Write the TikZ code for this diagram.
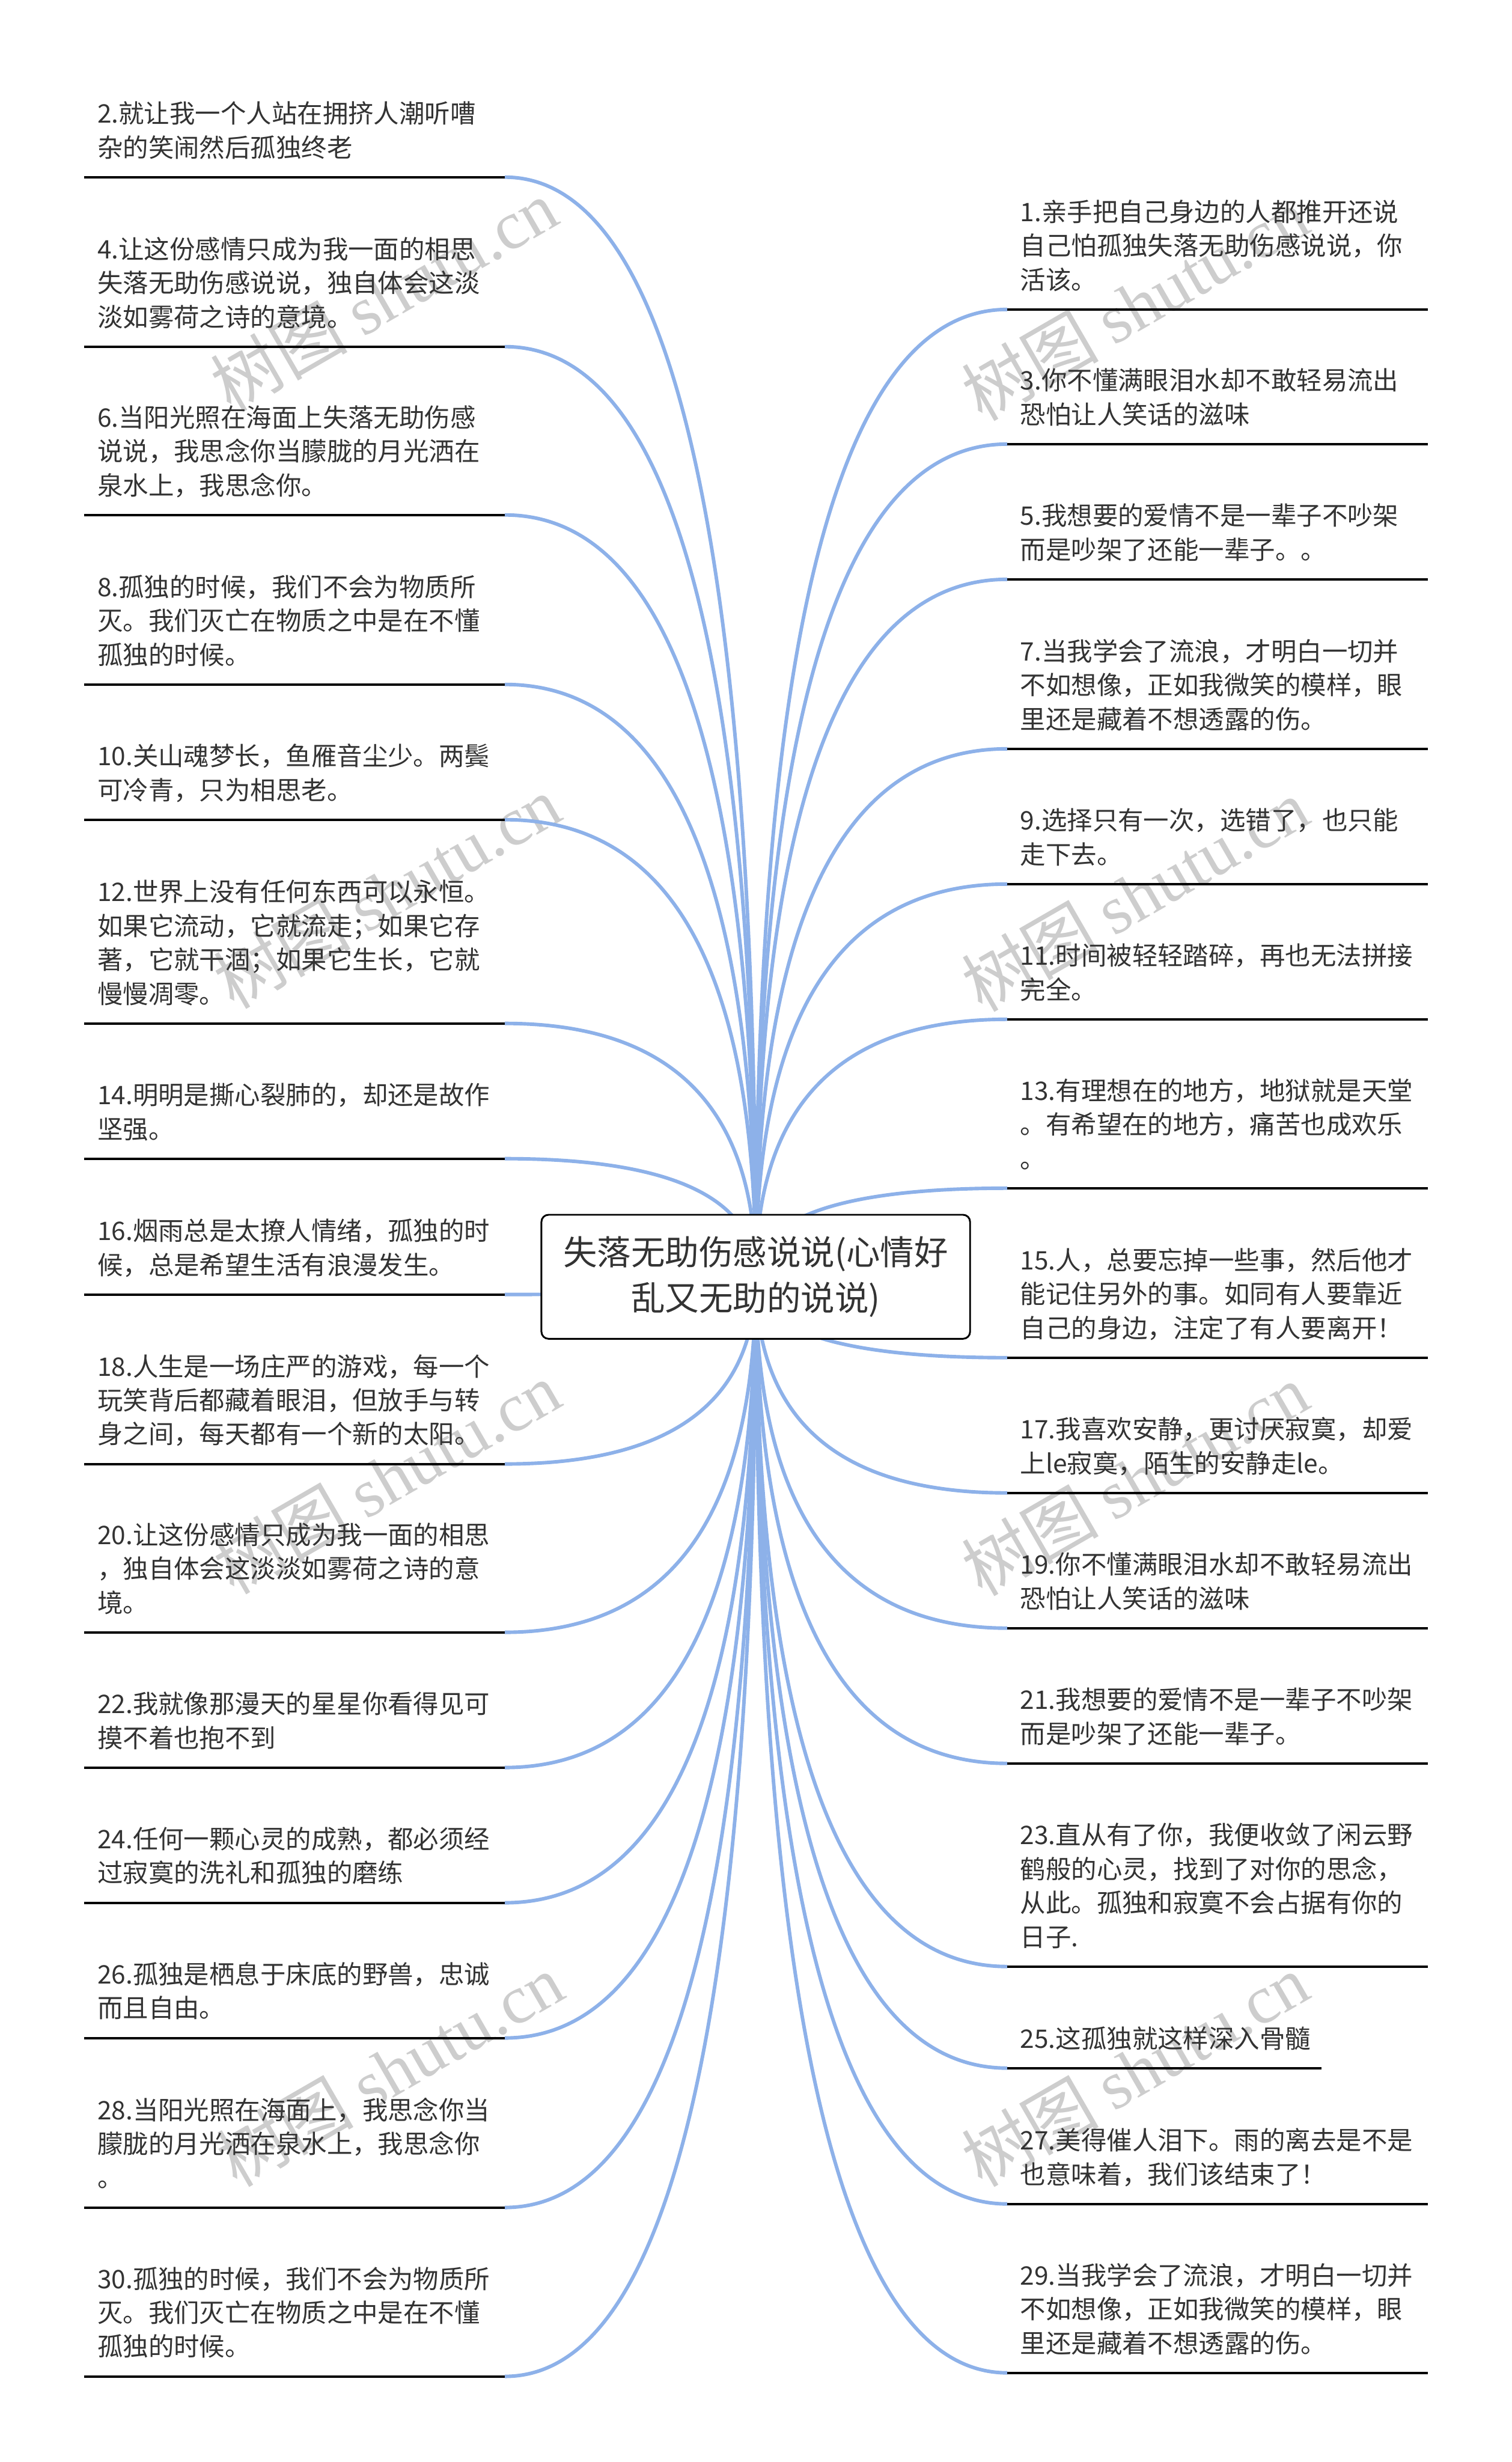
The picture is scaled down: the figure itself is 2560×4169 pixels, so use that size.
\documentclass[tikz,border=0pt]{standalone}
\usepackage{fontspec}
\setmainfont{Noto Sans CJK SC}
\newfontfamily\markfont{Liberation Serif}
\usetikzlibrary{positioning, calc, backgrounds}
\definecolor{linkblue}{RGB}{141,177,233}
\definecolor{inkgray}{RGB}{51,51,51}
\definecolor{markgray}{RGB}{205,205,205}

\begin{document}
\begin{tikzpicture}[
        x=1pt, y=-1pt,
        font=\fontsize{43.2}{57.4}\selectfont,
        base/.style={inner sep=0pt, outer sep=0pt, text=inkgray},
        topic/.style={base, draw=black, line width=3pt, fill=white, rounded corners=12pt, align=center, minimum width=726pt, minimum height=210pt, font=\fontsize{57.5}{77}\selectfont},
        leaf/.style={base, anchor=south west, align=left, text width=668pt, inner xsep=22pt, inner ysep=17pt, execute at end node=\strut},
        rule/.style={line width=4pt, draw=black},
        link/.style={line width=6pt, draw=linkblue},
        watermark/.style={text=markgray, rotate=30, font=\fontsize{116}{116}\selectfont}
    ]

    \useasboundingbox (0,0) rectangle (2560,4169);

    % Nodes
    \node[topic] (root) at (1280,2162) {失落无助伤感说说(心情好\\乱又无助的说说)};

    \node[leaf] (item2) at (143,300) {2.就让我一个人站在拥挤人潮听嘈\\杂的笑闹然后孤独终老};
    \node[leaf] (item4) at (143,587) {4.让这份感情只成为我一面的相思\\失落无助伤感说说，独自体会这淡\\淡如雾荷之诗的意境。};
    \node[leaf] (item6) at (143,872) {6.当阳光照在海面上失落无助伤感\\说说，我思念你当朦胧的月光洒在\\泉水上，我思念你。};
    \node[leaf] (item8) at (143,1159) {8.孤独的时候，我们不会为物质所\\灭。我们灭亡在物质之中是在不懂\\孤独的时候。};
    \node[leaf] (item10) at (143,1388) {10.关山魂梦长，鱼雁音尘少。两鬓\\可冷青，只为相思老。};
    \node[leaf] (item12) at (143,1733) {12.世界上没有任何东西可以永恒。\\如果它流动，它就流走；如果它存\\著，它就干涸；如果它生长，它就\\慢慢凋零。};
    \node[leaf] (item14) at (143,1962) {14.明明是撕心裂肺的，却还是故作\\坚强。};
    \node[leaf] (item16) at (143,2192) {16.烟雨总是太撩人情绪，孤独的时\\候，总是希望生活有浪漫发生。};
    \node[leaf] (item18) at (143,2479) {18.人生是一场庄严的游戏，每一个\\玩笑背后都藏着眼泪，但放手与转\\身之间，每天都有一个新的太阳。};
    \node[leaf] (item20) at (143,2764) {20.让这份感情只成为我一面的相思\\，独自体会这淡淡如雾荷之诗的意\\境。};
    \node[leaf] (item22) at (143,2993) {22.我就像那漫天的星星你看得见可\\摸不着也抱不到};
    \node[leaf] (item24) at (143,3222) {24.任何一颗心灵的成熟，都必须经\\过寂寞的洗礼和孤独的磨练};
    \node[leaf] (item26) at (143,3451) {26.孤独是栖息于床底的野兽，忠诚\\而且自由。};
    \node[leaf] (item28) at (143,3738) {28.当阳光照在海面上，我思念你当\\朦胧的月光洒在泉水上，我思念你\\。};
    \node[leaf] (item30) at (143,4024) {30.孤独的时候，我们不会为物质所\\灭。我们灭亡在物质之中是在不懂\\孤独的时候。};

    \node[leaf] (item1) at (1706,524) {1.亲手把自己身边的人都推开还说\\自己怕孤独失落无助伤感说说，你\\活该。};
    \node[leaf] (item3) at (1706,752) {3.你不懂满眼泪水却不敢轻易流出\\恐怕让人笑话的滋味};
    \node[leaf] (item5) at (1706,981) {5.我想要的爱情不是一辈子不吵架\\而是吵架了还能一辈子。。};
    \node[leaf] (item7) at (1706,1268) {7.当我学会了流浪，才明白一切并\\不如想像，正如我微笑的模样，眼\\里还是藏着不想透露的伤。};
    \node[leaf] (item9) at (1706,1497) {9.选择只有一次，选错了，也只能\\走下去。};
    \node[leaf] (item11) at (1706,1726) {11.时间被轻轻踏碎，再也无法拼接\\完全。};
    \node[leaf] (item13) at (1706,2012) {13.有理想在的地方，地狱就是天堂\\。有希望在的地方，痛苦也成欢乐\\。};
    \node[leaf] (item15) at (1706,2299) {15.人，总要忘掉一些事，然后他才\\能记住另外的事。如同有人要靠近\\自己的身边，注定了有人要离开！};
    \node[leaf] (item17) at (1706,2528) {17.我喜欢安静，更讨厌寂寞，却爱\\上le寂寞，陌生的安静走le。};
    \node[leaf] (item19) at (1706,2757) {19.你不懂满眼泪水却不敢轻易流出\\恐怕让人笑话的滋味};
    \node[leaf] (item21) at (1706,2986) {21.我想要的爱情不是一辈子不吵架\\而是吵架了还能一辈子。};
    \node[leaf] (item23) at (1706,3330) {23.直从有了你，我便收敛了闲云野\\鹤般的心灵，找到了对你的思念，\\从此。孤独和寂寞不会占据有你的\\日子.};
    \node[leaf, text width=488pt] (item25) at (1706,3502) {25.这孤独就这样深入骨髓};
    \node[leaf] (item27) at (1706,3732) {27.美得催人泪下。雨的离去是不是\\也意味着，我们该结束了！};
    \node[leaf] (item29) at (1706,4018) {29.当我学会了流浪，才明白一切并\\不如想像，正如我微笑的模样，眼\\里还是藏着不想透露的伤。};

    % Underlines
    \foreach \n in {1,...,30}
        \draw[rule] (item\n.south west) -- (item\n.south east);

    \begin{scope}[on background layer]
        \fill[white] (0,0) rectangle (2560,4169);

        % Watermarks
        \node[watermark] (markA) at (650,500) {树图 {\markfont shutu.cn}};
        \node[watermark] (markB) at (1922,515) {树图 {\markfont shutu.cn}};
        \node[watermark] (markC) at (655,1510) {树图 {\markfont shutu.cn}};
        \node[watermark] (markD) at (1922,1515) {树图 {\markfont shutu.cn}};
        \node[watermark] (markE) at (655,2502) {树图 {\markfont shutu.cn}};
        \node[watermark] (markF) at (1922,2505) {树图 {\markfont shutu.cn}};
        \node[watermark] (markG) at (660,3505) {树图 {\markfont shutu.cn}};
        \node[watermark] (markH) at (1922,3505) {树图 {\markfont shutu.cn}};

        % Links
        \foreach \n in {2,4,...,30}
            \draw[link] (root.center) .. controls ($(root.center)!2/3!(root.center |- item\n.south east)$)
                and ($(item\n.south east)!2/3!(root.center |- item\n.south east)$) .. (item\n.south east);
        \foreach \n in {1,3,...,29}
            \draw[link] (root.center) .. controls ($(root.center)!2/3!(root.center |- item\n.south west)$)
                and ($(item\n.south west)!2/3!(root.center |- item\n.south west)$) .. (item\n.south west);
    \end{scope}

\end{tikzpicture}
\end{document}
